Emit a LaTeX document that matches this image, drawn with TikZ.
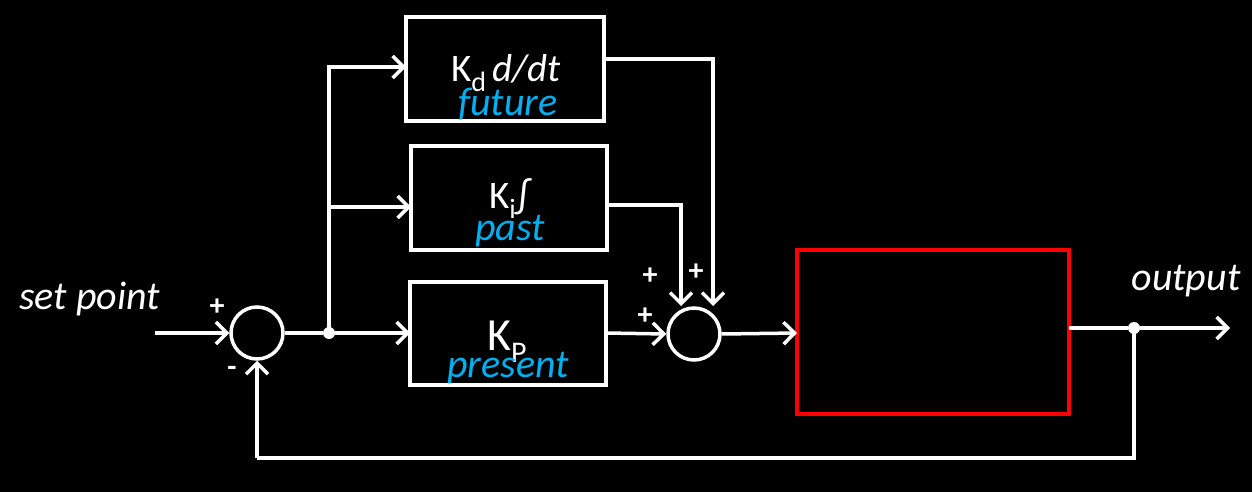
\documentclass[tikz,border=0pt]{standalone}
\usepackage{fontspec}
\setmainfont{Carlito}
\usetikzlibrary{arrows.meta}
\definecolor{skyb}{RGB}{0,176,240}
\tikzset{
  wire/.style={draw=white, line width=3.5pt},
  arr/.style={wire, -{Straight Barb[length=11pt,width=22pt,line width=3.5pt]}},
  blk/.style={draw=white, line width=4pt, fill=black},
  sumc/.style={circle, draw=white, line width=3.5pt, minimum size=52pt, inner sep=0pt},
  lbl/.style={text=white, font=\fontsize{39}{42}\selectfont, inner sep=0pt},
  ilbl/.style={text=white, font=\fontsize{40}{42}\selectfont\itshape, inner sep=0pt},
  blue/.style={text=skyb, font=\fontsize{40}{42}\selectfont\itshape, inner sep=0pt},
  sgn/.style={text=white, font=\fontsize{30}{32}\selectfont\bfseries, inner sep=0pt},
  dot/.style={circle, fill=white, minimum size=12pt, inner sep=0pt}
}
\begin{document}
\begin{tikzpicture}[x=1pt,y=-1pt]
\useasboundingbox (0,0) rectangle (1252,492);
\fill[black] (0,0) rectangle (1252,492);
% blocks
\draw[blk] (406,17) rectangle (604,121);
\coordinate (kdw) at (406,67); \coordinate (kde) at (604,59);
\draw[blk] (411,146) rectangle (607,250);
\coordinate (kiw) at (411,207); \coordinate (kie) at (607,205);
\draw[blk] (410,282) rectangle (606,385);
\coordinate (kpw) at (410,333); \coordinate (kpe) at (606,333);
\draw[draw=red, line width=4pt] (797,250) rectangle (1069,414);
\coordinate (plw) at (797,333); \coordinate (ple) at (1069,328);
% summing junctions
\node[sumc] (s1) at (257,333) {};
\node[sumc] (s2) at (694,334) {};
\node[dot] (j1) at (329,333) {};
\node[dot] (j2) at (1134,328) {};
\coordinate (sp) at (155,333);
\coordinate (out) at (1230,328);
\coordinate (kdc) at (713,306);
\coordinate (kic) at (681,306);
\coordinate (fb) at (257,458);
% connectors
\draw[arr] (sp) -- (s1.west);
\draw[wire] (s1.east) -- (j1);
\draw[arr] (j1) -- (kpw);
\draw[arr] (j1.center) |- (kdw);
\draw[arr] (j1.center |- kiw) -- (kiw);
\draw[arr] (kde) -| (kdc);
\draw[arr] (kie) -| (kic);
\draw[arr] (kpe) -- (s2.west);
\draw[arr] (s2.east) -- (plw);
\draw[wire] (ple) -- (j2);
\draw[arr] (j2) -- (out);
\draw[wire] (j2.center) |- (fb);
\draw[arr] (fb) -- (s1.south);
% labels
\node[lbl, anchor=base] (kdl) at (506,82) {K\raisebox{-10pt}{\fontsize{28}{28}\selectfont d}\,\textit{d/dt}};
\node[blue, anchor=base] (kdf) at (508,116) {future};
\node[lbl, anchor=base] (kil) at (510,208) {K\raisebox{-10pt}{\fontsize{28}{28}\selectfont i}\kern1pt∫};
\node[blue, anchor=base] (kip) at (510,240) {past};
\node[lbl, font=\fontsize{46}{48}\selectfont, anchor=base] (kpl) at (507,350) {K\raisebox{-12pt}{\fontsize{30}{30}\selectfont P}};
\node[blue, anchor=base] (kpp) at (508,377) {present};
\node[ilbl, anchor=base west] (spl) at (19,309) {set point};
\node[ilbl, anchor=base] (outl) at (1186,290) {output};
\node[sgn] (p1) at (217,307) {+};
\node[sgn] (m1) at (232,371) {-};
\node[sgn] (p2) at (650,276) {+};
\node[sgn] (p3) at (696,272) {+};
\node[sgn] (p4) at (645,316) {+};
\end{tikzpicture}
\end{document}
